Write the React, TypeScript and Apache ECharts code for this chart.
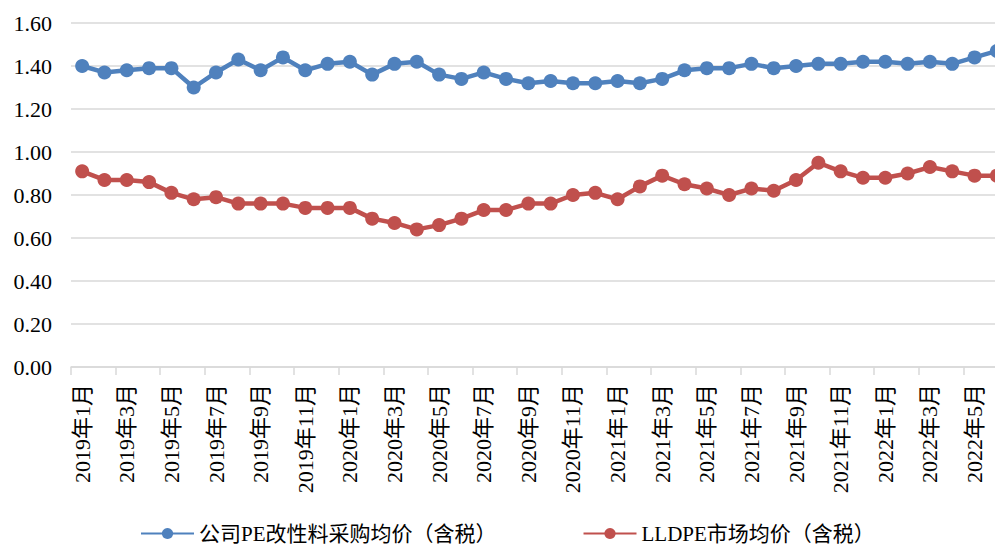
import React, { useEffect, useRef } from "react";
import * as echarts from "echarts";

const categories: string[] = [];
for (const y of [2019, 2020, 2021, 2022]) {
  for (let m = 1; m <= 12; m++) {
    if (y === 2022 && m > 6) break;
    categories.push(`${y}年${m}月`);
  }
}

const peCost = [
  1.40, 1.37, 1.38, 1.39, 1.39, 1.30, 1.37, 1.43, 1.38, 1.44, 1.38, 1.41,
  1.42, 1.36, 1.41, 1.42, 1.36, 1.34, 1.37, 1.34, 1.32, 1.33, 1.32, 1.32,
  1.33, 1.32, 1.34, 1.38, 1.39, 1.39, 1.41, 1.39, 1.40, 1.41, 1.41, 1.42,
  1.42, 1.41, 1.42, 1.41, 1.44, 1.47,
];

const lldpe = [
  0.91, 0.87, 0.87, 0.86, 0.81, 0.78, 0.79, 0.76, 0.76, 0.76, 0.74, 0.74,
  0.74, 0.69, 0.67, 0.64, 0.66, 0.69, 0.73, 0.73, 0.76, 0.76, 0.80, 0.81,
  0.78, 0.84, 0.89, 0.85, 0.83, 0.80, 0.83, 0.82, 0.87, 0.95, 0.91, 0.88,
  0.88, 0.90, 0.93, 0.91, 0.89, 0.89,
];

const seriesNames = ["公司PE改性料采购均价（含税）", "LLDPE市场均价（含税）"];

const FONT = "Liberation Serif, Noto Sans CJK SC, serif";

export default function App() {
  const ref = useRef<HTMLDivElement>(null);
  useEffect(() => {
    if (!ref.current) return;
    const chart = echarts.init(ref.current, undefined, { renderer: "svg" });
    chart.setOption({
      animation: false,
      backgroundColor: "#ffffff",
      textStyle: { fontFamily: FONT },
      grid: { left: 71, right: 7, top: 23, bottom: 180, containLabel: false },
      legend: {
        left: 135,
        top: 518,
        itemWidth: 53,
        itemHeight: 14,
        itemGap: 86,
        textStyle: { fontFamily: FONT, fontSize: 21, color: "#000" },
        data: seriesNames,
      },
      xAxis: {
        type: "category",
        data: categories,
        boundaryGap: true,
        axisLine: { lineStyle: { color: "#d9d9d9", width: 1.5 } },
        axisTick: { show: true, interval: 1, length: 8, lineStyle: { color: "#d9d9d9", width: 1.5 } },
        axisLabel: {
          interval: 1,
          rotate: 90,
          margin: 17,
          fontSize: 22,
          fontFamily: FONT,
          color: "#000",
        },
      },
      yAxis: {
        type: "value",
        min: 0,
        max: 1.6,
        interval: 0.2,
        axisLine: { show: false },
        axisTick: { show: false },
        splitLine: { lineStyle: { color: "#d9d9d9", width: 1.5 } },
        axisLabel: {
          margin: 19,
          fontSize: 22,
          fontFamily: FONT,
          color: "#000",
          formatter: (v: number) => v.toFixed(2),
        },
      },
      series: [
        {
          name: seriesNames[0],
          type: "line",
          data: peCost,
          symbol: "circle",
          symbolSize: 14,
          lineStyle: { color: "#4F81BD", width: 4.5 },
          itemStyle: { color: "#4F81BD" },
        },
        {
          name: seriesNames[1],
          type: "line",
          data: lldpe,
          symbol: "circle",
          symbolSize: 14,
          lineStyle: { color: "#C0504D", width: 4.5 },
          itemStyle: { color: "#C0504D" },
        },
      ],
    });
    return () => chart.dispose();
  }, []);
  return (
    <div
      style={{
        position: "fixed",
        left: 0,
        top: 0,
        width: 995,
        height: 547,
        overflow: "hidden",
        background: "#fff",
      }}
    >
      <div ref={ref} style={{ width: 1015, height: 547 }} />
    </div>
  );
}
